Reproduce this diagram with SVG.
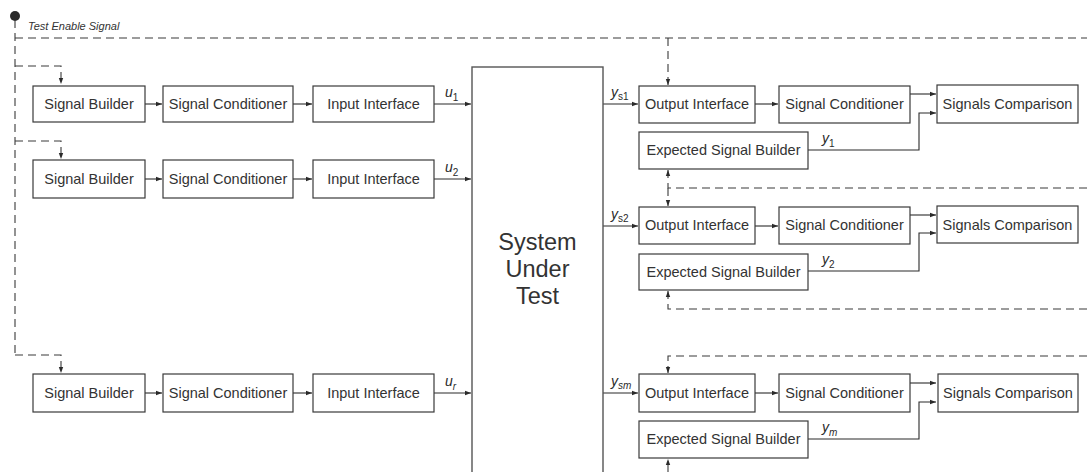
<svg xmlns="http://www.w3.org/2000/svg" width="1087" height="472" viewBox="0 0 1087 472">
<style>
.b{fill:#fff;stroke:#3a3a3a;stroke-width:1.2}
.t{font-family:"Liberation Sans",Arial,sans-serif;font-size:14.5px;fill:#333;text-anchor:middle}
.l{fill:none;stroke:#2a2a2a;stroke-width:1.1}
.d{fill:none;stroke:#3a3a3a;stroke-width:1.1;stroke-dasharray:8 5}
.v{font-family:"Liberation Sans",Arial,sans-serif;font-size:14px;font-style:italic;fill:#2a2a2a}
.s{font-size:10px;font-style:normal}
.si{font-size:10px;font-style:italic}
</style>
<defs>
<marker id="a" markerWidth="7" markerHeight="6" refX="6" refY="3" orient="auto" markerUnits="userSpaceOnUse"><path d="M0,0.8 L6,3 L0,5.2 Z" fill="#2a2a2a"/></marker>
</defs>
<rect width="1087" height="472" fill="#fff"/>
<g id="enable">
<circle cx="15" cy="16" r="5" fill="#2a2a2a"/>
<text x="28" y="30" font-family="Liberation Sans,Arial,sans-serif" font-size="11" font-style="italic" fill="#333">Test Enable Signal</text>
</g>
<g id="connectors">
<path class="d" d="M15,20 V355"/>
<path class="d" d="M15,38 H1087"/>
<path class="d" d="M15,66 H61 V84" marker-end="url(#a)"/>
<path class="d" d="M15,141 H61 V159" marker-end="url(#a)"/>
<path class="d" d="M15,355 H61 V373" marker-end="url(#a)"/>
<path class="d" d="M668,38 V85" marker-end="url(#a)"/>
<path class="d" d="M1087,188 H668 V170" marker-end="url(#a)"/>
<path class="d" d="M668,188 V206" marker-end="url(#a)"/>
<path class="d" d="M1087,309 H668 V291" marker-end="url(#a)"/>
<path class="d" d="M1087,356 H668 V373" marker-end="url(#a)"/>
<path class="d" d="M668,472 V459" marker-end="url(#a)"/>
<path class="l" d="M145,104 H162" marker-end="url(#a)"/>
<path class="l" d="M293,104 H312" marker-end="url(#a)"/>
<path class="l" d="M434,104 H471" marker-end="url(#a)"/>
<path class="l" d="M145,179 H162" marker-end="url(#a)"/>
<path class="l" d="M293,179 H312" marker-end="url(#a)"/>
<path class="l" d="M434,179 H471" marker-end="url(#a)"/>
<path class="l" d="M145,393 H162" marker-end="url(#a)"/>
<path class="l" d="M293,393 H312" marker-end="url(#a)"/>
<path class="l" d="M434,393 H471" marker-end="url(#a)"/>
<path class="l" d="M603,104 H638" marker-end="url(#a)"/>
<path class="l" d="M755,104 H778" marker-end="url(#a)"/>
<path class="l" d="M910,94 H936" marker-end="url(#a)"/>
<path class="l" d="M808,150 H919 V113 H936" marker-end="url(#a)"/>
<path class="l" d="M603,226 H638" marker-end="url(#a)"/>
<path class="l" d="M755,226 H778" marker-end="url(#a)"/>
<path class="l" d="M910,215 H936" marker-end="url(#a)"/>
<path class="l" d="M808,271 H919 V233 H936" marker-end="url(#a)"/>
<path class="l" d="M603,393 H638" marker-end="url(#a)"/>
<path class="l" d="M755,393 H778" marker-end="url(#a)"/>
<path class="l" d="M910,383 H936" marker-end="url(#a)"/>
<path class="l" d="M808,439 H919 V402 H936" marker-end="url(#a)"/>
<text class="v" x="445" y="97">u<tspan class="s" dy="4">1</tspan></text>
<text class="v" x="445" y="172">u<tspan class="s" dy="4">2</tspan></text>
<text class="v" x="445" y="386">u<tspan class="si" dy="4">r</tspan></text>
<text class="v" x="611" y="97">y<tspan class="s" dy="3">s1</tspan></text>
<text class="v" x="611" y="219">y<tspan class="s" dy="3">s2</tspan></text>
<text class="v" x="611" y="386">y<tspan class="si" dy="3">sm</tspan></text>
<text class="v" x="822" y="143">y<tspan class="s" dy="4">1</tspan></text>
<text class="v" x="822" y="264">y<tspan class="s" dy="4">2</tspan></text>
<text class="v" x="822" y="432">y<tspan class="si" dy="4">m</tspan></text>
</g>
<g id="sb1"><rect class="b" x="33" y="86" width="112" height="36"/><text class="t" x="89" y="109">Signal Builder</text></g>
<g id="sc1"><rect class="b" x="163" y="86" width="130" height="36"/><text class="t" x="228" y="109">Signal Conditioner</text></g>
<g id="ii1"><rect class="b" x="313" y="86" width="121" height="36"/><text class="t" x="373.5" y="109">Input Interface</text></g>
<g id="sb2"><rect class="b" x="33" y="160" width="112" height="38"/><text class="t" x="89" y="184">Signal Builder</text></g>
<g id="sc2"><rect class="b" x="163" y="160" width="130" height="38"/><text class="t" x="228" y="184">Signal Conditioner</text></g>
<g id="ii2"><rect class="b" x="313" y="160" width="121" height="38"/><text class="t" x="373.5" y="184">Input Interface</text></g>
<g id="sb3"><rect class="b" x="33" y="374" width="112" height="38"/><text class="t" x="89" y="398">Signal Builder</text></g>
<g id="sc3"><rect class="b" x="163" y="374" width="130" height="38"/><text class="t" x="228" y="398">Signal Conditioner</text></g>
<g id="ii3"><rect class="b" x="313" y="374" width="121" height="38"/><text class="t" x="373.5" y="398">Input Interface</text></g>
<g id="sut">
<rect x="472" y="67" width="131" height="420" fill="#fff" stroke="#555" stroke-width="1.4"/>
<text class="t" x="537.5" y="250" style="font-size:23.5px">System</text>
<text class="t" x="537.5" y="277" style="font-size:23.5px">Under</text>
<text class="t" x="537.5" y="304" style="font-size:23.5px">Test</text>
</g>
<g id="oi1"><rect class="b" x="639" y="86" width="116" height="37"/><text class="t" x="697" y="109">Output Interface</text></g>
<g id="osc1"><rect class="b" x="779" y="86" width="131" height="37"/><text class="t" x="844.5" y="109">Signal Conditioner</text></g>
<g id="cmp1"><rect class="b" x="937" y="85" width="141" height="38"/><text class="t" x="1007.5" y="109">Signals Comparison</text></g>
<g id="esb1"><rect class="b" x="639" y="132" width="169" height="37"/><text class="t" x="723.5" y="155">Expected Signal Builder</text></g>
<g id="oi2"><rect class="b" x="639" y="207" width="116" height="37"/><text class="t" x="697" y="230">Output Interface</text></g>
<g id="osc2"><rect class="b" x="779" y="207" width="131" height="37"/><text class="t" x="844.5" y="230">Signal Conditioner</text></g>
<g id="cmp2"><rect class="b" x="937" y="206" width="141" height="37"/><text class="t" x="1007.5" y="230">Signals Comparison</text></g>
<g id="esb2"><rect class="b" x="639" y="254" width="169" height="36"/><text class="t" x="723.5" y="277">Expected Signal Builder</text></g>
<g id="oi3"><rect class="b" x="639" y="374" width="116" height="38"/><text class="t" x="697" y="398">Output Interface</text></g>
<g id="osc3"><rect class="b" x="779" y="374" width="131" height="38"/><text class="t" x="844.5" y="398">Signal Conditioner</text></g>
<g id="cmp3"><rect class="b" x="938" y="374" width="140" height="38"/><text class="t" x="1008" y="398">Signals Comparison</text></g>
<g id="esb3"><rect class="b" x="639" y="421" width="169" height="37"/><text class="t" x="723.5" y="444">Expected Signal Builder</text></g>
</svg>
